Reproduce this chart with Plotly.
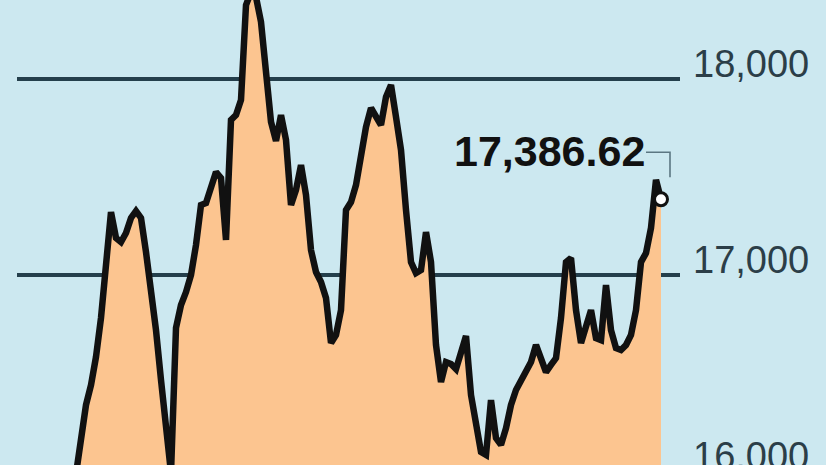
import plotly.graph_objects as go

# Index level (sessions at equal spacing)
values = [
    15985, 16184, 16337, 16439, 16582, 16781, 17025, 17321, 17189, 17168,
    17214, 17291, 17326, 17291, 17117, 16934, 16719, 16464, 16209, 15990,
    16730, 16847, 16913, 17000, 17153, 17357, 17367, 17444, 17525, 17495,
    17179, 17791, 17816, 17893, 18377, 18444, 18418, 18291, 18010, 17781,
    17684, 17816, 17689, 17357, 17434, 17561, 17408, 17127, 17015, 16964,
    16883, 16653, 16694, 16821, 17332, 17372, 17459, 17612, 17755, 17852,
    17806, 17765, 17908, 17969, 17806, 17638, 17332, 17066, 17010, 17025,
    17219, 17066, 16643, 16454, 16556, 16546, 16520, 16607, 16689, 16388,
    16235, 16097, 16082, 16362, 16168, 16133, 16219, 16337, 16413, 16464,
    16505, 16556, 16643, 16566, 16505, 16541, 16576, 16781, 17066, 17087,
    16821, 16653, 16745, 16821, 16678, 16668, 16949, 16719, 16627, 16617,
    16643, 16694, 16821, 17066, 17112, 17240, 17485, 17386.62,
]
sessions = list(range(len(values)))
last_label = "17,386.62"
tick_values = [16000, 17000, 18000]
tick_labels = ["16,000", "17,000", "18,000"]

BG = "#cce8f0"
FILL = "#fcc590"
GRID = "#243f4c"
LABEL = "#2b3e48"

fig = go.Figure()
fig.add_trace(go.Scatter(
    x=sessions, y=values, mode="lines",
    line=dict(color="#111111", width=6.5),
    fill="tozeroy", fillcolor=FILL,
    hoverinfo="skip",
))
fig.add_trace(go.Scatter(
    x=[sessions[-1]], y=[values[-1]], mode="markers",
    marker=dict(size=13, color="white", line=dict(color="#111111", width=3)),
    hoverinfo="skip",
))

fig.add_annotation(
    x=sessions[-1], y=values[-1], text=last_label, showarrow=False,
    xanchor="right", yanchor="middle", xshift=-14, yshift=48,
    font=dict(family="Liberation Sans", size=43, color="#111111", weight="bold"),
)
fig.add_shape(
    type="path", xref="x", yref="y",
    xsizemode="pixel", ysizemode="pixel",
    xanchor=sessions[-1], yanchor=values[-1],
    path="M -15 47 L 9 47 L 9 22",
    line=dict(color="#5b7682", width=1.6),
)

# The original graphic is cropped just above its 16,000 gridline:
# the figure is a few pixels taller than the 465px window.
fig.update_layout(
    width=826, height=471,
    margin=dict(l=17, r=146, t=0, b=0),
    paper_bgcolor=BG, plot_bgcolor=BG,
    showlegend=False,
    xaxis=dict(visible=False, range=[-11.8, 120.8]),
    yaxis=dict(
        range=[16000, 18403], side="right", automargin=False,
        tickvals=tick_values, ticktext=tick_labels,
        showgrid=True, gridcolor=GRID, gridwidth=3.5,
        zeroline=False, showline=False, ticks="",
        ticklabelstandoff=12, ticklabelshift=-15,
        ticklabeloverflow="allow",
        tickfont=dict(family="Liberation Sans", size=38, color=LABEL),
    ),
)

fig.write_html(
    "out.html",
    config={"displayModeBar": False},
    post_script="document.body.style.margin='0';document.body.style.overflow='hidden';document.documentElement.style.overflow='hidden';",
)
